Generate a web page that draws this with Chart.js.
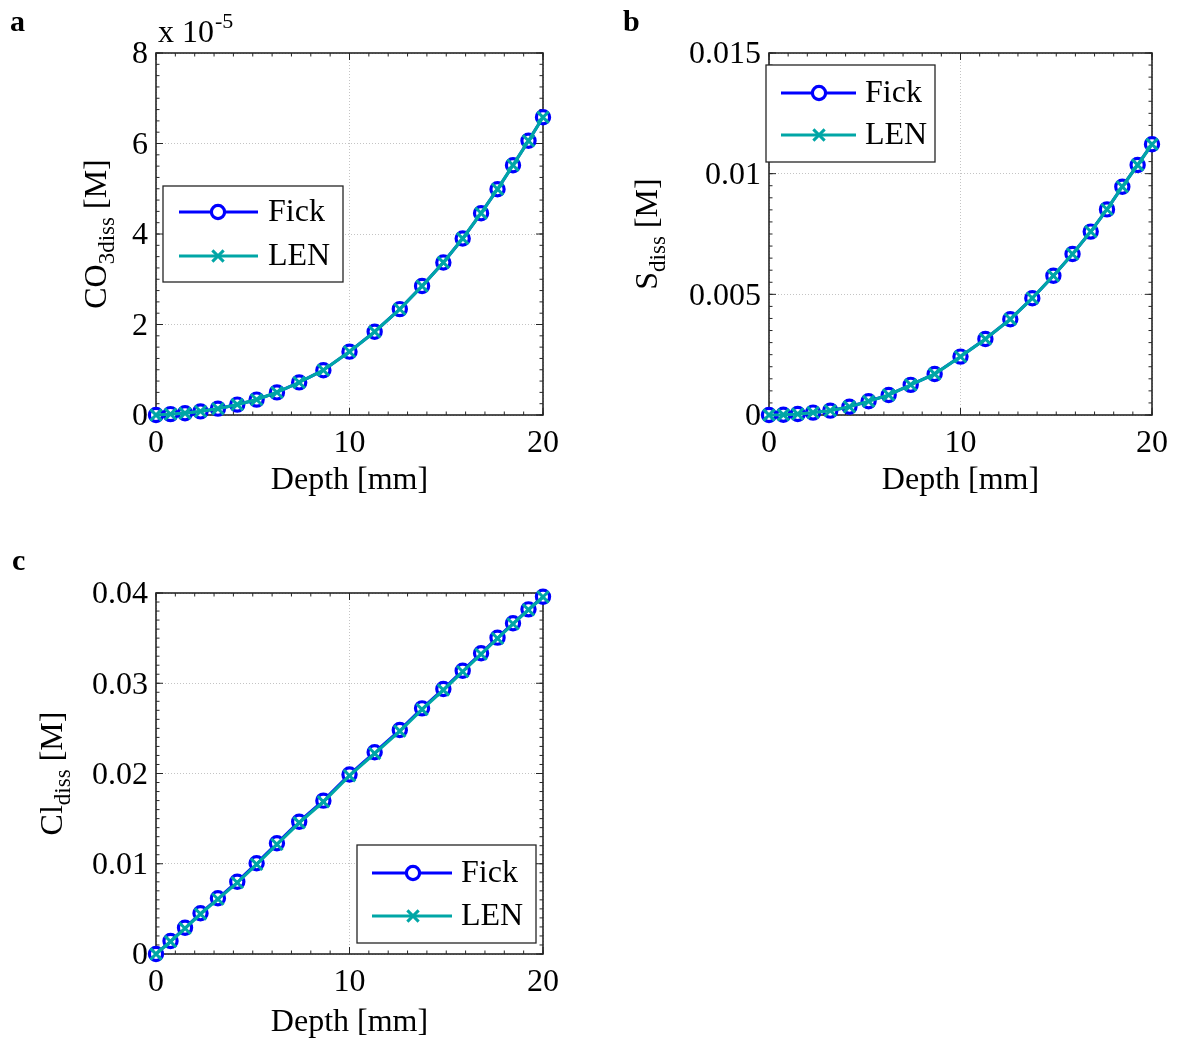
<!DOCTYPE html>
<html>
<head>
<meta charset="utf-8">
<script src="https://cdn.jsdelivr.net/npm/chart.js@4.4.0/dist/chart.umd.min.js"></script>
<style>
  body { margin: 0; background: #fff; }
  #wrap { position: relative; width: 1177px; height: 1040px; }
  canvas { position: absolute; }
</style>
</head>
<body>
<div id="wrap">
  <canvas id="chartA" width="590" height="520" style="left:0;top:0;width:590px;height:520px"></canvas>
  <canvas id="chartB" width="587" height="520" style="left:590px;top:0;width:587px;height:520px"></canvas>
  <canvas id="chartC" width="590" height="520" style="left:0;top:520px;width:590px;height:520px"></canvas>
</div>
<script>
var FONT = "'Liberation Serif', 'Times New Roman', serif";
Chart.defaults.font.family = FONT;
Chart.defaults.color = '#000';

// Depth grid [mm]
var depth = [0, 0.75, 1.5, 2.3, 3.2, 4.2, 5.2, 6.25, 7.4, 8.65, 10, 11.3, 12.6, 13.75, 14.85, 15.85, 16.8, 17.65, 18.45, 19.25, 20];

// CO3 dissolved, in units of 1e-5 M
var co3Fick = [0, 0.02, 0.04, 0.08, 0.14, 0.23, 0.34, 0.50, 0.72, 0.99, 1.40, 1.84, 2.34, 2.85, 3.37, 3.90, 4.46, 4.99, 5.52, 6.06, 6.58];
var co3Len  = [0, 0.02, 0.04, 0.08, 0.14, 0.23, 0.34, 0.50, 0.72, 0.99, 1.40, 1.84, 2.34, 2.85, 3.37, 3.90, 4.46, 4.99, 5.52, 6.06, 6.58];

// S dissolved [M]
var sFick = [0, 0.00001, 0.00004, 0.0001, 0.00018, 0.00034, 0.00057, 0.00083, 0.00125, 0.0017, 0.00242, 0.00315, 0.00397, 0.00484, 0.00577, 0.00667, 0.0076, 0.00852, 0.00946, 0.01036, 0.01122];
var sLen  = [0, 0.00001, 0.00004, 0.0001, 0.00018, 0.00034, 0.00057, 0.00083, 0.00125, 0.0017, 0.00242, 0.00315, 0.00397, 0.00484, 0.00577, 0.00667, 0.0076, 0.00852, 0.00946, 0.01036, 0.01122];

// Cl dissolved [M]
var clFick = [0, 0.00144, 0.00291, 0.00451, 0.00617, 0.00801, 0.01005, 0.01227, 0.01466, 0.01699, 0.01989, 0.02235, 0.02482, 0.02722, 0.02936, 0.03139, 0.03332, 0.03505, 0.03665, 0.03819, 0.03959];
var clLen  = [0, 0.00138, 0.00284, 0.00443, 0.00608, 0.00791, 0.00994, 0.01215, 0.01454, 0.01687, 0.01976, 0.02222, 0.0247, 0.0271, 0.02925, 0.03129, 0.03323, 0.03497, 0.03658, 0.03814, 0.03956];

var xTicks = [0, 10, 20];

function points(ys) {
    return depth.map(function (d, i) { return { x: d, y: ys[i] }; });
}

// box, inward ticks on all four sides, titles, legend
var matlabAxes = {
    id: 'matlabAxes',
    beforeDatasetsDraw: function (chart, args, opts) {
        var ctx = chart.ctx, a = chart.chartArea;
        var xs = chart.scales.x, ys = chart.scales.y;
        ctx.save();
        ctx.strokeStyle = '#262626';
        ctx.lineWidth = 1;
        function run(scale, step, len, horiz) {
            var n = Math.round((scale.max - scale.min) / step);
            for (var i = 0; i <= n; i++) {
                var p = scale.getPixelForValue(scale.min + i * step);
                ctx.beginPath();
                if (horiz) {
                    ctx.moveTo(p, a.bottom); ctx.lineTo(p, a.bottom - len);
                    ctx.moveTo(p, a.top); ctx.lineTo(p, a.top + len);
                } else {
                    ctx.moveTo(a.left, p); ctx.lineTo(a.left + len, p);
                    ctx.moveTo(a.right, p); ctx.lineTo(a.right - len, p);
                }
                ctx.stroke();
            }
        }
        run(xs, 1, 3.5, true);
        run(xs, 10, 7, true);
        run(ys, opts.yMinor, 3.5, false);
        run(ys, opts.yMajor, 7, false);
        ctx.lineWidth = 1.6;
        ctx.strokeRect(a.left, a.top, a.right - a.left, a.bottom - a.top);
        ctx.restore();
    },
    afterDraw: function (chart, args, opts) {
        var ctx = chart.ctx, a = chart.chartArea;
        ctx.save();
        ctx.fillStyle = '#000';

        // x title
        ctx.font = '32px ' + FONT;
        ctx.textAlign = 'center';
        ctx.textBaseline = 'alphabetic';
        ctx.fillText('Depth [mm]', (a.left + a.right) / 2, opts.xTitleY);

        // y title with subscript
        ctx.save();
        ctx.translate(opts.yTitleX, (a.top + a.bottom) / 2);
        ctx.rotate(-Math.PI / 2);
        ctx.textAlign = 'left';
        ctx.font = '32px ' + FONT;
        var w1 = ctx.measureText(opts.yMain).width;
        var w3 = ctx.measureText(' [M]').width;
        ctx.font = '23px ' + FONT;
        var w2 = ctx.measureText(opts.ySub).width;
        var x0 = -(w1 + w2 + w3) / 2;
        ctx.font = '32px ' + FONT;
        ctx.fillText(opts.yMain, x0, 0);
        ctx.fillText(' [M]', x0 + w1 + w2, 0);
        ctx.font = '23px ' + FONT;
        ctx.fillText(opts.ySub, x0 + w1, 8);
        ctx.restore();

        // axis exponent
        if (opts.expBase) {
            ctx.textAlign = 'left';
            ctx.font = '32px ' + FONT;
            ctx.fillText(opts.expBase, opts.expX, opts.expY);
            var wb = ctx.measureText(opts.expBase).width;
            ctx.font = '22px ' + FONT;
            ctx.fillText(opts.expSup, opts.expX + wb + 1, opts.expY - 14);
        }

        // panel letter
        ctx.font = 'bold 30px ' + FONT;
        ctx.textAlign = 'left';
        ctx.fillText(opts.letter, opts.letterX, opts.letterY);

        // legend
        var lg = opts.legend;
        ctx.fillStyle = '#fff';
        ctx.fillRect(lg.x, lg.y, lg.w, lg.h);
        ctx.strokeStyle = '#262626';
        ctx.lineWidth = 1.3;
        ctx.strokeRect(lg.x, lg.y, lg.w, lg.h);
        chart.data.datasets.forEach(function (ds, i) {
            var y = lg.rows[i];
            ctx.strokeStyle = ds.borderColor;
            ctx.lineWidth = ds.borderWidth;
            ctx.beginPath();
            ctx.moveTo(lg.x1, y);
            ctx.lineTo(lg.x2, y);
            ctx.stroke();
            ctx.fillStyle = ds.pointBackgroundColor;
            ctx.strokeStyle = ds.pointBorderColor;
            ctx.lineWidth = ds.pointBorderWidth;
            Chart.helpers.drawPoint(ctx, {
                pointStyle: ds.pointStyle,
                radius: ds.pointRadius,
                borderWidth: ds.pointBorderWidth,
                rotation: 0
            }, lg.mx, y);
            ctx.fillStyle = '#000';
            ctx.font = '32px ' + FONT;
            ctx.textBaseline = 'middle';
            ctx.fillText(ds.label, lg.tx, y + 1);
        });
        ctx.restore();
    }
};

function makePanel(id, fick, len, p) {
    return new Chart(document.getElementById(id), {
        type: 'line',
        data: {
            datasets: [{
                label: 'Fick',
                data: points(fick),
                borderColor: '#0000ff',
                borderWidth: 3,
                pointStyle: 'circle',
                pointRadius: 6.6,
                pointBorderWidth: 3.2,
                pointBorderColor: '#0000ff',
                pointBackgroundColor: '#ffffff',
                tension: 0,
                clip: false,
                order: 2
            }, {
                label: 'LEN',
                data: points(len),
                borderColor: '#00a6a6',
                borderWidth: 3.2,
                pointStyle: 'crossRot',
                pointRadius: 8,
                pointBorderWidth: 3,
                pointBorderColor: '#00a6a6',
                pointBackgroundColor: '#00a6a6',
                tension: 0,
                clip: false,
                order: 1
            }]
        },
        options: {
            responsive: false,
            animation: false,
            events: [],
            layout: { padding: p.padding },
            plugins: {
                legend: { display: false },
                tooltip: { enabled: false },
                matlabAxes: p.axes
            },
            scales: {
                x: {
                    type: 'linear',
                    min: 0, max: 20,
                    afterBuildTicks: function (s) { s.ticks = xTicks.map(function (v) { return { value: v }; }); },
                    ticks: { font: { size: 32 }, padding: 9, maxRotation: 0, autoSkip: false },
                    grid: { color: '#c4c4c4', lineWidth: 1, drawTicks: false },
                    border: { display: false, dash: [1, 2] },
                    afterFit: function (s) { s.height = 60; }
                },
                y: {
                    type: 'linear',
                    min: 0, max: p.yMax,
                    ticks: {
                        stepSize: p.axes.yMajor,
                        font: { size: 32 },
                        padding: 8,
                        labelOffset: 2,
                        callback: function (v) { return String(+v.toFixed(4)); }
                    },
                    grid: { color: '#c4c4c4', lineWidth: 1, drawTicks: false },
                    border: { display: false, dash: [1, 2] },
                    afterFit: function (s) { s.width = p.yWidth; }
                }
            }
        },
        plugins: [matlabAxes]
    });
}

makePanel('chartA', co3Fick, co3Len, {
    padding: { left: 0, top: 53, right: 47, bottom: 45 },
    yWidth: 156,
    yMax: 8,
    axes: {
        yMajor: 2, yMinor: 0.25,
        yMain: 'CO', ySub: '3diss', yTitleX: 106, xTitleY: 489,
        expBase: 'x 10', expSup: '-5', expX: 158, expY: 42,
        letter: 'a', letterX: 10, letterY: 31,
        legend: { x: 163, y: 186, w: 180, h: 96, rows: [212, 256], x1: 179, x2: 258, mx: 218, tx: 268 }
    }
});

makePanel('chartB', sFick, sLen, {
    padding: { left: 0, top: 53, right: 21, bottom: 45 },
    yWidth: 179,
    yMax: 0.015,
    axes: {
        yMajor: 0.005, yMinor: 0.0005,
        yMain: 'S', ySub: 'diss', yTitleX: 67, xTitleY: 489,
        letter: 'b', letterX: 33, letterY: 31,
        legend: { x: 176, y: 65, w: 169, h: 97, rows: [93, 135], x1: 191, x2: 266, mx: 229, tx: 275 }
    }
});

makePanel('chartC', clFick, clLen, {
    padding: { left: 0, top: 73, right: 47, bottom: 26 },
    yWidth: 156,
    yMax: 0.04,
    axes: {
        yMajor: 0.01, yMinor: 0.001,
        yMain: 'Cl', ySub: 'diss', yTitleX: 62, xTitleY: 511,
        letter: 'c', letterX: 12, letterY: 50,
        legend: { x: 357, y: 325, w: 179, h: 98, rows: [353, 396], x1: 372, x2: 452, mx: 413, tx: 461 }
    }
});
</script>
</body>
</html>
